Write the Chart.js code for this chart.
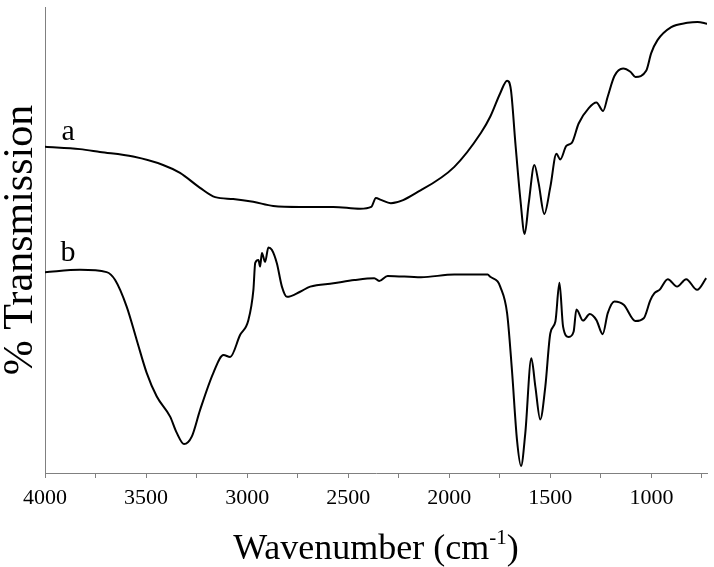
<!DOCTYPE html>
<html>
<head>
<meta charset="utf-8">
<script src="https://cdn.jsdelivr.net/npm/chart.js@4.4.0/dist/chart.umd.min.js"></script>
<style>
  html, body { margin: 0; padding: 0; background: #fff; }
  #wrap { width: 714px; height: 567px; }
</style>
</head>
<body>
<div id="wrap"><canvas id="ftir"></canvas></div>
<script>
// spectrum a
const waveA = [4000, 3827, 3728, 3564, 3416, 3332, 3233, 3158, 3069, 2970, 2871, 2738, 2574, 2441, 2386, 2363, 2338, 2289, 2140, 1975, 1843, 1797, 1748, 1714, 1695, 1673, 1648, 1627, 1607, 1579, 1558, 1530, 1500, 1470, 1451, 1421, 1393, 1360, 1310, 1272, 1239, 1216, 1183, 1140, 1104, 1079, 1026, 1001, 970, 902, 822, 772, 724];
const transA = [70.0, 69.5, 68.9, 67.9, 66.1, 64.4, 61.2, 59.2, 58.8, 58.2, 57.3, 57.1, 57.1, 56.7, 57.1, 59.0, 58.6, 57.9, 60.7, 65.7, 73.0, 76.5, 81.5, 84.2, 82.2, 70.8, 58.6, 51.3, 57.9, 66.1, 62.2, 55.6, 61.4, 68.5, 67.3, 70.2, 70.9, 75.0, 78.3, 79.5, 77.7, 80.8, 85.2, 86.8, 86.1, 85.0, 86.3, 90.1, 92.9, 95.7, 96.6, 96.8, 96.4];

// spectrum b
const waveB = [4000, 3827, 3695, 3653, 3596, 3546, 3497, 3447, 3381, 3348, 3312, 3274, 3233, 3167, 3117, 3084, 3035, 2994, 2969, 2960, 2944, 2936, 2927, 2911, 2895, 2878, 2853, 2828, 2803, 2738, 2688, 2573, 2470, 2371, 2347, 2305, 2140, 1975, 1810, 1797, 1761, 1748, 1714, 1690, 1665, 1645, 1624, 1594, 1574, 1550, 1525, 1500, 1475, 1455, 1437, 1409, 1385, 1371, 1338, 1305, 1272, 1241, 1216, 1183, 1137, 1079, 1038, 1005, 985, 960, 919, 873, 828, 774, 729];
const transB = [43.1, 43.6, 43.1, 41.4, 35.7, 28.5, 21.5, 16.4, 12.1, 8.6, 6.2, 7.8, 13.5, 21.5, 25.3, 24.9, 29.6, 32.8, 39.3, 45.1, 45.7, 44.3, 47.2, 45.3, 48.4, 47.9, 45.0, 40.0, 37.8, 38.9, 40.0, 40.7, 41.4, 41.8, 41.2, 42.3, 42.0, 42.6, 42.6, 42.1, 41.1, 40.0, 34.3, 22.1, 7.1, 1.5, 8.5, 24.6, 18.5, 11.5, 18.5, 30.0, 32.5, 40.8, 31.4, 29.2, 30.3, 35.1, 32.7, 34.1, 32.8, 29.8, 34.3, 36.8, 36.1, 32.6, 33.2, 37.1, 38.6, 39.3, 41.6, 40.0, 41.6, 39.3, 41.8];

const tickValues = [4000, 3750, 3500, 3250, 3000, 2750, 2500, 2250, 2000, 1750, 1500, 1250, 1000, 750];
const curveLabels = ["a", "b"];
const labelAt = [[3886, 73.2], [3886, 47.2]];

const serif = "'Liberation Serif', 'Times New Roman', serif";

const toPoints = (xs, ys) => xs.map((x, i) => ({ x: x, y: ys[i] }));

// "a" / "b" tags beside the curves, and the x title with its superscript
const extraText = {
  id: "extraText",
  afterDraw(chart) {
    const { ctx, scales, chartArea } = chart;
    ctx.save();
    ctx.fillStyle = "#000";
    ctx.font = "30px " + serif;
    ctx.textAlign = "center";
    ctx.textBaseline = "middle";
    curveLabels.forEach((t, i) => {
      ctx.fillText(t, scales.x.getPixelForValue(labelAt[i][0]), scales.y.getPixelForValue(labelAt[i][1]));
    });

    const main = "Wavenumber (cm";
    const sup = "-1";
    const close = ")";
    const bigFont = "36px " + serif;
    const supFont = "21px " + serif;
    ctx.font = bigFont;
    const wMain = ctx.measureText(main).width;
    const wClose = ctx.measureText(close).width;
    ctx.font = supFont;
    const wSup = ctx.measureText(sup).width;
    let x = (chartArea.left + chartArea.right) / 2 - (wMain + wSup + wClose) / 2;
    const base = 559;
    ctx.textAlign = "left";
    ctx.textBaseline = "alphabetic";
    ctx.font = bigFont;
    ctx.fillText(main, x, base);
    x += wMain;
    ctx.font = supFont;
    ctx.fillText(sup, x, base - 15);
    x += wSup;
    ctx.font = bigFont;
    ctx.fillText(close, x, base);
    ctx.restore();
  },
};

new Chart(document.getElementById("ftir"), {
  type: "line",
  data: {
    datasets: [
      {
        label: "a",
        data: toPoints(waveA, transA),
        borderColor: "#000",
        borderWidth: 2,
        pointRadius: 0,
        cubicInterpolationMode: "monotone",
      },
      {
        label: "b",
        data: toPoints(waveB, transB),
        borderColor: "#000",
        borderWidth: 2,
        pointRadius: 0,
        cubicInterpolationMode: "monotone",
      },
    ],
  },
  options: {
    responsive: true,
    maintainAspectRatio: false,
    animation: false,
    layout: { padding: { left: 0, right: 7, top: 7, bottom: 0 } },
    plugins: {
      legend: { display: false },
      tooltip: { enabled: false },
    },
    scales: {
      x: {
        type: "linear",
        reverse: true,
        min: 725,
        max: 4000,
        afterBuildTicks: (scale) => {
          scale.ticks = tickValues.map((v) => ({ value: v }));
        },
        afterFit: (scale) => {
          scale.height = 94;
        },
        border: { color: "#808080", width: 1 },
        grid: {
          drawOnChartArea: false,
          drawTicks: true,
          tickLength: 5,
          color: "#808080",
        },
        ticks: {
          autoSkip: false,
          maxRotation: 0,
          padding: 7,
          color: "#000",
          font: { family: serif, size: 22 },
          callback: (v) => (v % 500 === 0 ? v : ""),
        },
        title: { display: false },
      },
      y: {
        min: 0,
        max: 100,
        afterFit: (scale) => {
          scale.width = 45;
        },
        border: { color: "#808080", width: 1 },
        grid: { display: false },
        ticks: { display: false },
        title: {
          display: true,
          text: "% Transmission",
          color: "#000",
          font: { family: serif, size: 42, lineHeight: 1.0 },
          padding: 0,
        },
      },
    },
  },
  plugins: [extraText],
});
</script>
</body>
</html>
